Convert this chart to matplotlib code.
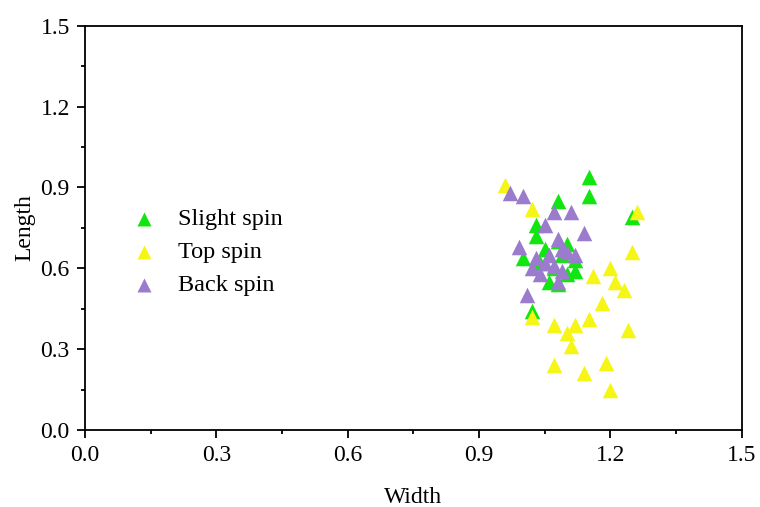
import numpy as np
import matplotlib
matplotlib.use("Agg")
import matplotlib.pyplot as plt
from matplotlib.ticker import MultipleLocator

plt.rcParams['font.family'] = ['Liberation Serif', 'DejaVu Serif']

# Slight spin
slight_w = [1.15, 1.15, 1.08, 1.25, 1.03, 1.03, 1.00, 1.05, 1.08, 1.10, 1.09,
            1.07, 1.10, 1.12, 1.12, 1.04, 1.08, 1.02, 1.06]
slight_l = [0.94, 0.87, 0.85, 0.79, 0.76, 0.72, 0.64, 0.67, 0.70, 0.69, 0.65,
            0.60, 0.58, 0.63, 0.59, 0.62, 0.54, 0.44, 0.55]

# Top spin
top_w = [0.96, 1.02, 1.26, 1.25, 1.20, 1.21, 1.16, 1.23, 1.18, 1.02, 1.07,
         1.10, 1.12, 1.15, 1.11, 1.24, 1.07, 1.14, 1.19, 1.20]
top_l = [0.91, 0.82, 0.81, 0.66, 0.60, 0.55, 0.57, 0.52, 0.47, 0.42, 0.39,
         0.36, 0.39, 0.41, 0.31, 0.37, 0.24, 0.21, 0.25, 0.15]

# Back spin
back_w = [0.97, 1.00, 1.07, 1.11, 1.05, 1.14, 1.08, 0.99, 1.03, 1.06, 1.09,
          1.10, 1.12, 1.02, 1.04, 1.07, 1.09, 1.08, 1.01, 1.05]
back_l = [0.88, 0.87, 0.81, 0.81, 0.76, 0.73, 0.71, 0.68, 0.64, 0.65, 0.67,
          0.66, 0.65, 0.60, 0.58, 0.61, 0.59, 0.55, 0.50, 0.62]

fig = plt.figure(figsize=(7.6, 5.07), dpi=100)
ax = fig.add_axes([0.112, 0.152, 0.864, 0.797])

ax.scatter(slight_w, slight_l, marker='^', s=125, color='#11E611', linewidths=0, label='Slight spin')
ax.scatter(top_w, top_l, marker='^', s=125, color='#F5F516', linewidths=0, label='Top spin')
ax.scatter(back_w, back_l, marker='^', s=125, color='#9B7BCB', linewidths=0, label='Back spin')

ax.set_xlim(0, 1.5)
ax.set_ylim(0, 1.5)
ax.xaxis.set_major_locator(MultipleLocator(0.3))
ax.yaxis.set_major_locator(MultipleLocator(0.3))
ax.xaxis.set_minor_locator(MultipleLocator(0.15))
ax.yaxis.set_minor_locator(MultipleLocator(0.15))
ax.xaxis.set_major_formatter(plt.FormatStrFormatter('%.1f'))
ax.yaxis.set_major_formatter(plt.FormatStrFormatter('%.1f'))
ax.tick_params(which='both', direction='out', width=1.3, labelsize=17)
ax.tick_params(which='major', length=6, pad=5)
ax.tick_params(which='minor', length=3)
for sp in ax.spines.values():
    sp.set_linewidth(1.3)

ax.set_xlabel('Width', fontsize=17, labelpad=15)
ax.set_ylabel('Length', fontsize=17, labelpad=4)

ax.legend(loc='center left', bbox_to_anchor=(0.02, 0.44), frameon=False,
          fontsize=17.5, handletextpad=0.4, labelspacing=0.45, scatterpoints=1,
          markerscale=0.9)

fig.savefig('out.png', dpi=100)
